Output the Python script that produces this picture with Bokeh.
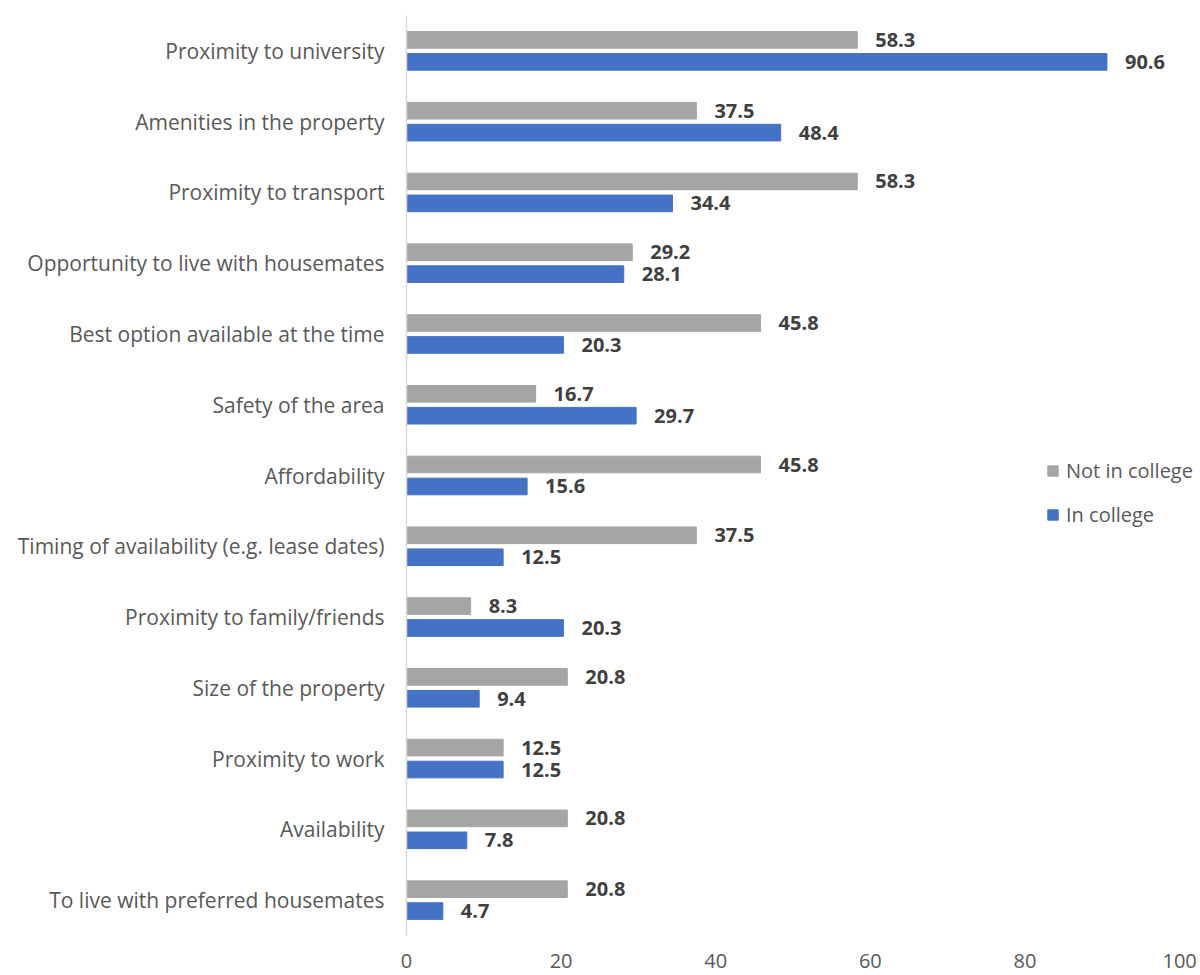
from bokeh.plotting import figure
from bokeh.models import ColumnDataSource, FactorRange, Legend, LegendItem
from bokeh.transform import dodge
from bokeh.core.properties import value
from bokeh.embed import file_html
from bokeh.resources import INLINE

categories = [
    "Proximity to university",
    "Amenities in the property",
    "Proximity to transport",
    "Opportunity to live with housemates",
    "Best option available at the time",
    "Safety of the area",
    "Affordability",
    "Timing of availability (e.g. lease dates)",
    "Proximity to family/friends",
    "Size of the property",
    "Proximity to work",
    "Availability",
    "To live with preferred housemates",
]
not_in_college = [58.3, 37.5, 58.3, 29.2, 45.8, 16.7, 45.8, 37.5, 8.3, 20.8, 12.5, 20.8, 20.8]
in_college = [90.6, 48.4, 34.4, 28.1, 20.3, 29.7, 15.6, 12.5, 20.3, 9.4, 12.5, 7.8, 4.7]
x_ticks = [0, 20, 40, 60, 80, 100]

GRAY = "#a5a5a5"
BLUE = "#4472c4"
FONT = "Open Sans"

src = ColumnDataSource(dict(
    cat=categories,
    nic=not_in_college,
    ic=in_college,
    nic_lbl=[f"{v:.1f}" for v in not_in_college],
    ic_lbl=[f"{v:.1f}" for v in in_college],
))

# frame spans x pixels 406..1200; value 100 sits at ~1179
p = figure(
    width=1200, height=975,
    y_range=FactorRange(*reversed(categories), range_padding=0),
    x_range=(0, 102.7),
    output_backend="svg", toolbar_location=None,
    min_border_left=406, min_border_right=0,
    min_border_top=15, min_border_bottom=40,
)
p.outline_line_color = None
p.background_fill_color = "white"
p.border_fill_color = "white"
p.xgrid.grid_line_color = None
p.ygrid.grid_line_color = None

r1 = p.hbar(y=dodge("cat", 0.155, range=p.y_range), right="nic", left=0,
            height=0.235, color=GRAY, source=src)
r2 = p.hbar(y=dodge("cat", -0.155, range=p.y_range), right="ic", left=0,
            height=0.235, color=BLUE, source=src)

p.text(x="nic", y=dodge("cat", 0.155, range=p.y_range), text="nic_lbl", source=src,
       x_offset=18, text_baseline="middle", text_align="left",
       text_font=value(FONT), text_font_style="bold", text_font_size="20px",
       text_color="#404040")
p.text(x="ic", y=dodge("cat", -0.155, range=p.y_range), text="ic_lbl", source=src,
       x_offset=18, text_baseline="middle", text_align="left",
       text_font=value(FONT), text_font_style="bold", text_font_size="20px",
       text_color="#404040")

p.xaxis.ticker = x_ticks
p.xaxis.axis_line_color = None
p.xaxis.major_tick_line_color = None
p.xaxis.minor_tick_line_color = None
p.xaxis.major_tick_out = 0
p.xaxis.major_label_standoff = 18
p.xaxis.major_label_text_font = FONT
p.xaxis.major_label_text_font_size = "20px"
p.xaxis.major_label_text_color = "#595959"

p.yaxis.axis_line_color = "#d9d9d9"
p.yaxis.axis_line_width = 1.5
p.yaxis.major_tick_line_color = None
p.yaxis.minor_tick_line_color = None
p.yaxis.major_tick_out = 0
p.yaxis.major_label_standoff = 22
p.yaxis.major_label_text_font = FONT
p.yaxis.major_label_text_font_size = "21px"
p.yaxis.major_label_text_color = "#595959"

legend = Legend(
    items=[LegendItem(label="Not in college", renderers=[r1]),
           LegendItem(label="In college", renderers=[r2])],
    location=(640, 407),
    glyph_width=13, glyph_height=13, label_standoff=7,
    label_text_font=FONT, label_text_font_size="20px", label_text_color="#595959",
    label_height=20, spacing=17, padding=0, margin=0,
    border_line_color=None, background_fill_alpha=0,
)
p.add_layout(legend)

open("out.html", "w").write(file_html(p, INLINE))
